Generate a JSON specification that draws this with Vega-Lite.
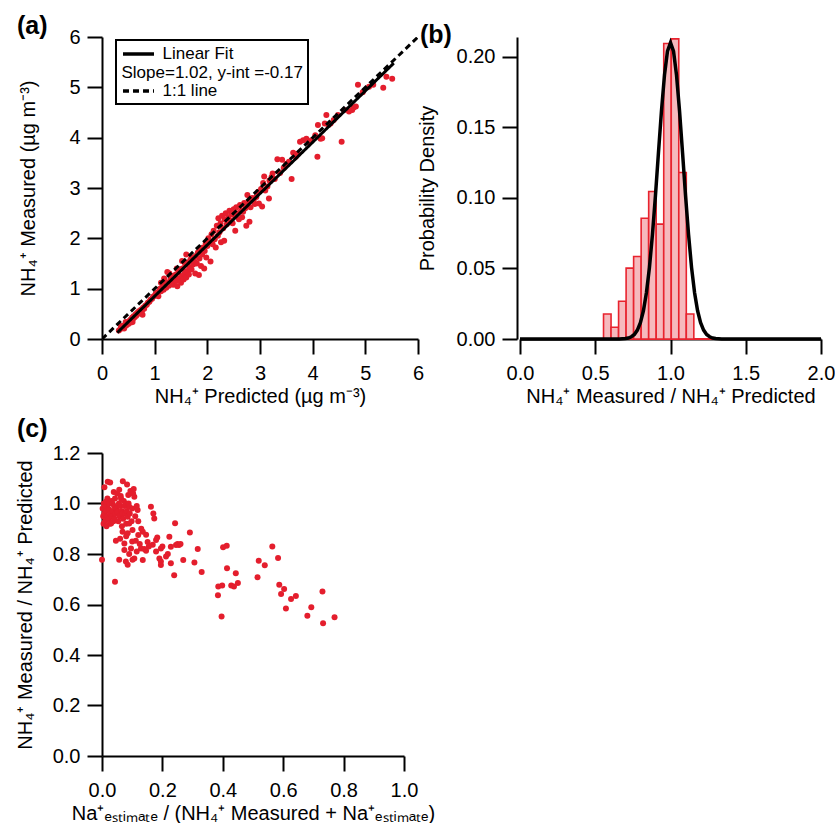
{
  "$schema": "https://vega.github.io/schema/vega-lite/v6.json",
  "padding": {"left": 15, "top": 14, "right": 0, "bottom": 0},
  "background": "white",
  "config": {
    "view": {"stroke": null},
    "font": "Liberation Sans",
    "axis": {"domainColor": "black", "domainWidth": 2, "tickColor": "black", "tickWidth": 2, "tickSize": 15, "labelColor": "black", "labelFont": "Liberation Sans", "labelFontSize": 20, "titleFont": "Liberation Sans", "titleFontSize": 20, "titleFontWeight": "normal", "titleColor": "black", "grid": false, "labelFlush": false, "labelOverlap": false},
    "axisX": {"labelPadding": 9, "titlePadding": 3},
    "axisY": {"labelPadding": 7},
    "title": {"font": "Liberation Sans", "fontSize": 25, "fontWeight": "bold", "anchor": "start", "frame": "group", "color": "black", "baseline": "bottom"}
  },
  "datasets": {
    "scatterA": [
      {"x":0.32,"y":0.17},{"x":0.35,"y":0.20},{"x":0.36,"y":0.26},{"x":0.38,"y":0.22},{"x":0.40,"y":0.26},{"x":0.42,"y":0.21},{"x":0.44,"y":0.29},{"x":0.45,"y":0.34},{"x":0.46,"y":0.27},{"x":0.48,"y":0.33},{"x":0.50,"y":0.30},{"x":0.52,"y":0.36},{"x":0.54,"y":0.38},{"x":0.55,"y":0.33},{"x":0.57,"y":0.42},{"x":0.58,"y":0.34},{"x":0.59,"y":0.40},{"x":0.60,"y":0.45},{"x":0.62,"y":0.43},{"x":0.64,"y":0.49},{"x":0.65,"y":0.46},{"x":0.67,"y":0.52},{"x":0.69,"y":0.50},{"x":0.70,"y":0.55},{"x":0.72,"y":0.53},{"x":0.74,"y":0.58},{"x":0.76,"y":0.56},{"x":0.77,"y":0.48},{"x":0.78,"y":0.62},{"x":0.80,"y":0.60},{"x":0.82,"y":0.66},{"x":0.85,"y":0.68},{"x":0.87,"y":0.72},{"x":0.90,"y":0.74},{"x":0.92,"y":0.78},{"x":0.95,"y":0.80},{"x":0.97,"y":0.84},{"x":1.00,"y":0.86},
      {"x":1.02,"y":0.90},{"x":1.05,"y":0.93},{"x":1.07,"y":0.85},{"x":1.10,"y":1.00},{"x":1.12,"y":0.95},{"x":1.12,"y":1.12},{"x":1.15,"y":1.05},{"x":1.17,"y":0.98},{"x":1.18,"y":1.20},{"x":1.20,"y":1.10},{"x":1.22,"y":1.02},{"x":1.24,"y":1.33},{"x":1.25,"y":1.12},{"x":1.27,"y":1.06},{"x":1.28,"y":1.30},{"x":1.30,"y":1.18},{"x":1.32,"y":1.15},{"x":1.33,"y":1.25},{"x":1.35,"y":1.08},{"x":1.37,"y":1.22},{"x":1.40,"y":1.28},{"x":1.41,"y":1.15},{"x":1.42,"y":1.40},{"x":1.43,"y":1.05},{"x":1.45,"y":1.32},{"x":1.46,"y":1.20},{"x":1.48,"y":1.38},{"x":1.50,"y":1.12},{"x":1.52,"y":1.25},{"x":1.52,"y":1.55},{"x":1.53,"y":1.40},{"x":1.55,"y":1.18},{"x":1.57,"y":1.30},{"x":1.58,"y":1.48},{"x":1.60,"y":1.22},{"x":1.60,"y":1.68},{"x":1.62,"y":1.35},{"x":1.63,"y":1.52},{"x":1.65,"y":1.28},{"x":1.66,"y":1.42},{"x":1.68,"y":1.58},{"x":1.70,"y":1.38},{"x":1.72,"y":1.62},{"x":1.73,"y":1.48},{"x":1.75,"y":1.55},{"x":1.77,"y":1.30},{"x":1.78,"y":1.65},{"x":1.80,"y":1.50},{"x":1.82,"y":1.72},{"x":1.84,"y":1.27},{"x":1.85,"y":1.60},{"x":1.87,"y":1.78},{"x":1.88,"y":1.45},{"x":1.90,"y":1.68},{"x":1.92,"y":1.82},{"x":1.94,"y":1.40},{"x":1.95,"y":1.75},{"x":1.97,"y":1.90},{"x":1.98,"y":1.62},{"x":2.00,"y":1.85},
      {"x":2.02,"y":2.00},{"x":2.04,"y":1.92},{"x":2.06,"y":1.54},{"x":2.08,"y":2.08},{"x":2.10,"y":1.88},{"x":2.12,"y":2.15},{"x":2.14,"y":1.98},{"x":2.16,"y":1.82},{"x":2.18,"y":2.25},{"x":2.20,"y":2.05},{"x":2.21,"y":2.40},{"x":2.23,"y":2.12},{"x":2.25,"y":2.30},{"x":2.26,"y":1.92},{"x":2.28,"y":2.45},{"x":2.30,"y":2.20},{"x":2.32,"y":1.95},{"x":2.33,"y":2.38},{"x":2.35,"y":2.50},{"x":2.37,"y":2.28},{"x":2.40,"y":2.42},{"x":2.42,"y":2.55},{"x":2.44,"y":2.35},{"x":2.46,"y":2.48},{"x":2.48,"y":2.30},{"x":2.50,"y":2.58},{"x":2.52,"y":2.45},{"x":2.53,"y":2.15},{"x":2.55,"y":2.62},{"x":2.57,"y":2.50},{"x":2.60,"y":2.38},{"x":2.62,"y":2.66},{"x":2.64,"y":2.55},{"x":2.66,"y":2.42},{"x":2.68,"y":2.53},{"x":2.70,"y":2.70},{"x":2.72,"y":2.60},{"x":2.74,"y":2.25},{"x":2.76,"y":2.86},{"x":2.78,"y":2.72},{"x":2.80,"y":2.33},{"x":2.82,"y":2.62},{"x":2.85,"y":2.80},{"x":2.88,"y":2.76},{"x":2.90,"y":2.68},{"x":2.93,"y":2.82},{"x":2.96,"y":2.92},{"x":2.98,"y":2.69},
      {"x":3.02,"y":2.98},{"x":3.04,"y":2.63},{"x":3.06,"y":3.10},{"x":3.08,"y":3.23},{"x":3.10,"y":2.95},{"x":3.14,"y":3.03},{"x":3.17,"y":2.79},{"x":3.18,"y":3.15},{"x":3.22,"y":3.22},{"x":3.24,"y":3.29},{"x":3.28,"y":3.18},{"x":3.33,"y":3.57},{"x":3.38,"y":3.30},{"x":3.42,"y":3.56},{"x":3.45,"y":3.40},{"x":3.50,"y":3.48},{"x":3.55,"y":3.52},{"x":3.60,"y":3.18},{"x":3.63,"y":3.70},{"x":3.68,"y":3.62},{"x":3.72,"y":3.68},{"x":3.76,"y":3.92},{"x":3.82,"y":3.95},{"x":3.88,"y":3.98},{"x":3.93,"y":3.90},{"x":3.98,"y":3.95},
      {"x":4.05,"y":4.05},{"x":4.09,"y":3.62},{"x":4.10,"y":4.25},{"x":4.15,"y":3.98},{"x":4.18,"y":3.99},{"x":4.23,"y":4.28},{"x":4.26,"y":4.45},{"x":4.30,"y":4.25},{"x":4.34,"y":4.28},{"x":4.40,"y":4.35},{"x":4.48,"y":4.45},{"x":4.55,"y":3.92},{"x":4.60,"y":4.55},{"x":4.69,"y":4.52},{"x":4.75,"y":4.55},{"x":4.78,"y":4.60},{"x":4.82,"y":4.62},{"x":4.86,"y":5.05},{"x":4.95,"y":4.90},{"x":5.07,"y":5.01},{"x":5.15,"y":5.05},{"x":5.34,"y":4.99},{"x":5.40,"y":5.21},{"x":5.51,"y":5.17}
    ],
    "linesA": [
      {"series":"1:1 line","x":0,"y":0},{"series":"1:1 line","x":6,"y":6},
      {"series":"Linear Fit","x":0.29,"y":0.126},{"series":"Linear Fit","x":5.54,"y":5.48}
    ],
    "histB": [
      {"lo":0.555,"hi":0.605,"p":0.0177},{"lo":0.605,"hi":0.655,"p":0.0083},{"lo":0.655,"hi":0.705,"p":0.0267},{"lo":0.705,"hi":0.755,"p":0.0502},{"lo":0.755,"hi":0.805,"p":0.0585},{"lo":0.805,"hi":0.855,"p":0.0856},{"lo":0.855,"hi":0.905,"p":0.1045},{"lo":0.905,"hi":0.955,"p":0.0814},{"lo":0.955,"hi":1.005,"p":0.2094},{"lo":1.005,"hi":1.055,"p":0.2127},{"lo":1.055,"hi":1.105,"p":0.118},{"lo":1.105,"hi":1.155,"p":0.0177}
    ],
    "baseB": [
      {"lo":0.05,"hi":2.0,"p":0}
    ],
    "curveB": [
      {"x":0,"y":0},{"x":0.6,"y":0},{"x":0.66,"y":0},{"x":0.70,"y":0.0003},{"x":0.72,"y":0.0007},{"x":0.74,"y":0.0016},{"x":0.76,"y":0.0032},{"x":0.78,"y":0.0063},{"x":0.80,"y":0.0115},{"x":0.82,"y":0.0200},{"x":0.84,"y":0.0328},{"x":0.86,"y":0.0506},{"x":0.88,"y":0.0739},{"x":0.90,"y":0.1016},{"x":0.92,"y":0.1320},{"x":0.94,"y":0.1617},{"x":0.96,"y":0.1870},{"x":0.98,"y":0.2040},{"x":1.00,"y":0.2100},{"x":1.02,"y":0.2040},{"x":1.04,"y":0.1870},{"x":1.06,"y":0.1617},{"x":1.08,"y":0.1320},{"x":1.10,"y":0.1016},{"x":1.12,"y":0.0739},{"x":1.14,"y":0.0506},{"x":1.16,"y":0.0328},{"x":1.18,"y":0.0200},{"x":1.20,"y":0.0115},{"x":1.22,"y":0.0063},{"x":1.24,"y":0.0032},{"x":1.26,"y":0.0016},{"x":1.28,"y":0.0007},{"x":1.30,"y":0.0003},{"x":1.34,"y":0},{"x":1.4,"y":0},{"x":2.0,"y":0}
    ],
    "scatterC": [
      {"x":0.002,"y":0.98},{"x":0.004,"y":0.95},{"x":0.005,"y":0.92},{"x":0.006,"y":1.00},{"x":0.008,"y":0.96},{"x":0.008,"y":1.064},{"x":0.010,"y":0.93},{"x":0.012,"y":0.99},{"x":0.013,"y":1.007},{"x":0.014,"y":0.97},{"x":0.015,"y":0.91},{"x":0.016,"y":0.95},{"x":0.018,"y":1.02},{"x":0.019,"y":0.948},{"x":0.019,"y":1.086},{"x":0.020,"y":0.98},{"x":0.022,"y":0.94},{"x":0.024,"y":0.974},{"x":0.025,"y":1.00},{"x":0.026,"y":0.92},{"x":0.027,"y":1.083},{"x":0.028,"y":0.96},{"x":0.030,"y":0.921},{"x":0.031,"y":1.01},{"x":0.033,"y":0.95},{"x":0.035,"y":1.00},{"x":0.036,"y":0.97},{"x":0.038,"y":0.93},{"x":0.039,"y":1.046},{"x":0.040,"y":0.99},{"x":0.041,"y":0.941},{"x":0.043,"y":1.02},{"x":0.045,"y":0.96},{"x":0.046,"y":0.852},{"x":0.047,"y":0.98},{"x":0.050,"y":1.04},{"x":0.052,"y":0.967},{"x":0.054,"y":0.93},{"x":0.056,"y":1.00},{"x":0.057,"y":1.054},{"x":0.057,"y":0.777},{"x":0.058,"y":0.95},{"x":0.060,"y":0.99},{"x":0.062,"y":1.03},{"x":0.063,"y":1.020},{"x":0.065,"y":0.97},{"x":0.066,"y":0.91},{"x":0.068,"y":0.961},{"x":0.068,"y":0.888},{"x":0.069,"y":1.088},{"x":0.070,"y":0.94},{"x":0.072,"y":1.01},{"x":0.074,"y":0.842},{"x":0.074,"y":0.816},{"x":0.075,"y":0.99},{"x":0.077,"y":0.96},{"x":0.079,"y":1.000},{"x":0.080,"y":0.92},{"x":0.082,"y":0.97},{"x":0.083,"y":1.075},{"x":0.085,"y":0.948},{"x":0.085,"y":0.882},{"x":0.087,"y":1.034},{"x":0.088,"y":1.00},{"x":0.090,"y":0.987},{"x":0.090,"y":0.921},{"x":0.092,"y":0.96},{"x":0.094,"y":1.05},{"x":0.096,"y":0.822},{"x":0.098,"y":0.93},{"x":0.100,"y":0.98},{"x":0.101,"y":0.895},{"x":0.103,"y":1.04},{"x":0.105,"y":1.057},{"x":0.107,"y":1.027},{"x":0.107,"y":0.782},{"x":0.110,"y":0.95},{"x":0.112,"y":0.852},{"x":0.115,"y":0.99},{"x":0.118,"y":0.974},{"x":0.120,"y":0.93},
      {"x":0.0,"y":0.777},{"x":0.043,"y":0.690},{"x":0.079,"y":0.770},{"x":0.085,"y":0.757},{"x":0.101,"y":0.777},{"x":0.129,"y":0.822},{"x":0.135,"y":0.888},{"x":0.135,"y":0.776},{"x":0.146,"y":0.813},{"x":0.151,"y":0.848},{"x":0.162,"y":0.987},{"x":0.173,"y":0.941},{"x":0.179,"y":0.855},{"x":0.179,"y":0.810},{"x":0.190,"y":0.782},{"x":0.195,"y":0.822},{"x":0.195,"y":0.770},{"x":0.195,"y":0.756},{"x":0.223,"y":0.868},{"x":0.228,"y":0.829},{"x":0.228,"y":0.763},{"x":0.239,"y":0.716},{"x":0.242,"y":0.922},{"x":0.245,"y":0.836},{"x":0.255,"y":0.836},{"x":0.269,"y":0.776},{"x":0.291,"y":0.885},{"x":0.306,"y":0.766},{"x":0.317,"y":0.820},{"x":0.330,"y":0.729},{"x":0.384,"y":0.637},{"x":0.385,"y":0.671},{"x":0.396,"y":0.552},{"x":0.398,"y":0.675},{"x":0.401,"y":0.827},{"x":0.413,"y":0.833},{"x":0.414,"y":0.744},{"x":0.428,"y":0.675},{"x":0.437,"y":0.671},{"x":0.443,"y":0.724},{"x":0.450,"y":0.685},{"x":0.515,"y":0.708},{"x":0.519,"y":0.773},{"x":0.539,"y":0.755},{"x":0.564,"y":0.830},{"x":0.583,"y":0.784},{"x":0.587,"y":0.678},{"x":0.593,"y":0.642},{"x":0.603,"y":0.661},{"x":0.609,"y":0.584},{"x":0.626,"y":0.622},{"x":0.642,"y":0.634},{"x":0.680,"y":0.555},{"x":0.693,"y":0.589},{"x":0.730,"y":0.651},{"x":0.732,"y":0.526},{"x":0.770,"y":0.550},
      {"x":0.146,"y":0.876},{"x":0.168,"y":0.837},{"x":0.183,"y":0.865},{"x":0.212,"y":0.790},{"x":0.218,"y":0.800},{"x":0.170,"y":0.960},{"x":0.125,"y":0.840},{"x":0.140,"y":0.820},{"x":0.155,"y":0.830},{"x":0.200,"y":0.830},{"x":0.250,"y":0.840},{"x":0.260,"y":0.840},{"x":0.120,"y":0.875},{"x":0.130,"y":0.900},{"x":0.115,"y":0.810},{"x":0.090,"y":0.800},{"x":0.100,"y":0.850},{"x":0.060,"y":0.860},{"x":0.080,"y":0.870}
    ]
  },
  "columns": 2,
  "spacing": {"row": 114, "column": 102},
  "bounds": "flush",
  "concat": [
    {
      "width": 316, "height": 302,
      "title": {"text": "(a)", "dx": -85, "offset": -12},
      "layer": [
        {
          "data": {"name": "scatterA"},
          "mark": {"type": "circle", "size": 36, "opacity": 1, "color": "#e41e2d"},
          "encoding": {
            "x": {"field": "x", "type": "quantitative", "scale": {"domain": [0, 6], "nice": false, "zero": false}, "axis": {"values": [0,1,2,3,4,5,6], "title": "NH₄⁺ Predicted (µg m⁻³)"}},
            "y": {"field": "y", "type": "quantitative", "scale": {"domain": [0, 6], "nice": false, "zero": false}, "axis": {"values": [0,1,2,3,4,5,6], "title": "NH₄⁺ Measured (µg m⁻³)", "titlePadding": 30}}
          }
        },
        {
          "data": {"name": "linesA"},
          "mark": {"type": "line", "strokeWidth": 3, "clip": true},
          "encoding": {
            "x": {"field": "x", "type": "quantitative"},
            "y": {"field": "y", "type": "quantitative"},
            "detail": {"field": "series"},
            "color": {"field": "series", "type": "nominal", "scale": {"domain": ["Linear Fit", "Slope=1.02, y-int =-0.17", "1:1 line"], "range": ["black", "transparent", "black"]},
              "legend": {"title": null, "orient": "none", "legendX": 14, "legendY": 3, "padding": 5, "rowPadding": 1.5, "labelFont": "Liberation Sans", "labelFontSize": 17, "labelColor": "black", "labelLimit": 400, "labelOffset": 15, "symbolType": "M -2.14 0 L 2.14 0", "symbolSize": 210, "symbolOffset": 8.5, "symbolStrokeWidth": 3.5,
                "encode": {"legend": {"update": {"stroke": {"value": "black"}, "strokeWidth": {"value": 2}, "fill": {"value": "white"}}},
                           "labels": {"update": {"dx": {"signal": "datum.value === 'Slope=1.02, y-int =-0.17' ? -41 : 0"}}}}}},
            "strokeDash": {"field": "series", "type": "nominal", "scale": {"domain": ["Linear Fit", "Slope=1.02, y-int =-0.17", "1:1 line"], "range": [[1, 0], [1, 0], [6, 4]]}, "legend": {"title": null}}
          }
        }
      ]
    },
    {
      "width": 301, "height": 302,
      "title": {"text": "(b)", "dx": -100, "offset": -12},
      "layer": [
        {
          "data": {"name": "baseB"},
          "mark": {"type": "rule", "color": "#e8232e", "strokeWidth": 2},
          "encoding": {
            "x": {"field": "lo", "type": "quantitative"},
            "x2": {"field": "hi"},
            "y": {"field": "p", "type": "quantitative"}
          }
        },
        {
          "data": {"name": "histB"},
          "mark": {"type": "rect", "fill": "#f6b9bd", "stroke": "#e8232e", "strokeWidth": 1.6},
          "encoding": {
            "x": {"field": "lo", "type": "quantitative", "scale": {"domain": [0, 2], "nice": false}, "axis": {"values": [0, 0.5, 1, 1.5, 2], "format": ".1f", "title": "NH₄⁺ Measured / NH₄⁺ Predicted"}},
            "x2": {"field": "hi"},
            "y": {"field": "p", "type": "quantitative", "scale": {"domain": [0, 0.214], "nice": false}, "axis": {"values": [0, 0.05, 0.1, 0.15, 0.2], "format": ".2f", "title": "Probability Density", "titlePadding": 19, "offset": 3}},
            "y2": {"datum": 0}
          }
        },
        {
          "data": {"name": "curveB"},
          "mark": {"type": "line", "color": "black", "strokeWidth": 3.5},
          "encoding": {
            "x": {"field": "x", "type": "quantitative"},
            "y": {"field": "y", "type": "quantitative"}
          }
        }
      ]
    },
    {
      "width": 302, "height": 303,
      "title": {"text": "(c)", "dx": -85, "offset": 1},
      "data": {"name": "scatterC"},
      "mark": {"type": "circle", "size": 36, "opacity": 1, "color": "#e41e2d"},
      "encoding": {
        "x": {"field": "x", "type": "quantitative", "scale": {"domain": [0, 1], "nice": false}, "axis": {"values": [0, 0.2, 0.4, 0.6, 0.8, 1], "format": ".1f", "title": "Na⁺ₑₛₜᵢₘₐₜₑ / (NH₄⁺ Measured + Na⁺ₑₛₜᵢₘₐₜₑ)"}},
        "y": {"field": "y", "type": "quantitative", "scale": {"domain": [0, 1.2], "nice": false}, "axis": {"values": [0, 0.2, 0.4, 0.6, 0.8, 1, 1.2], "format": ".1f", "title": "NH₄⁺ Measured / NH₄⁺ Predicted", "titlePadding": 17}}
      }
    }
  ]
}
